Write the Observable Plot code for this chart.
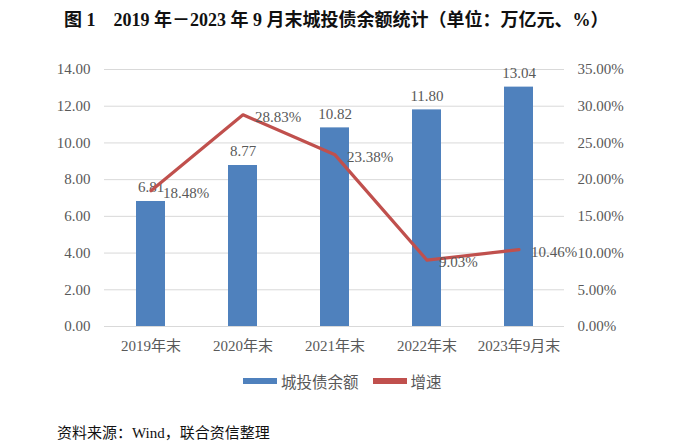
<!DOCTYPE html>
<html>
<head>
<meta charset="utf-8">
<script src="https://cdn.jsdelivr.net/npm/d3@7"></script>
<script src="https://cdn.jsdelivr.net/npm/@observablehq/plot@0.6"></script>
<style>
  body { margin: 0; background: #fff; width: 700px; height: 445px; position: relative; overflow: hidden; }
  .title { position: absolute; left: 64px; top: 5px; font-family: "Liberation Serif", "Noto Sans CJK SC", serif; font-weight: bold; font-size: 18px; color: #111; white-space: nowrap; }
  #chart { position: absolute; left: 0; top: 40px; }
  .legend { position: absolute; top: 370px; left: 243px; display: flex; align-items: center; font-family: "Noto Sans CJK SC", sans-serif; font-size: 15.5px; color: #595959; }
  .sw { display: inline-block; width: 34px; height: 6px; margin-right: 4px; }
  .caption { position: absolute; left: 57px; top: 421px; font-family: "Liberation Serif", "Noto Sans CJK SC", serif; font-size: 15px; color: #111; }
</style>
</head>
<body>
<div class="title">图 1&nbsp;&nbsp;&nbsp;&nbsp;2019 年－2023 年 9 月末城投债余额统计（单位：万亿元、%）</div>
<div id="chart"></div>
<div class="legend">
  <span class="sw" style="background:#4F81BD"></span><span>城投债余额</span>
  <span class="sw" style="background:#C0504D; margin-left:14px"></span><span>增速</span>
</div>
<div class="caption">资料来源：Wind，联合资信整理</div>
<script>
const categories = ["2019年末", "2020年末", "2021年末", "2022年末", "2023年9月末"];
const balance = [6.81, 8.77, 10.82, 11.80, 13.04];      // 万亿元
const growth = [18.48, 28.83, 23.38, 9.03, 10.46];       // %
const leftTicks = [0, 2, 4, 6, 8, 10, 12, 14];
const rightMax = 35; // right axis max (%)
const leftMax = 14;

const ratio = leftMax / rightMax;
const data = categories.map((c, i) => ({cat: c, bal: balance[i], g: growth[i]}));

const serif = "'Liberation Serif', 'Noto Sans CJK SC', serif";
const grey = "#595959";

const chart = Plot.plot({
  width: 700,
  height: 320,
  marginTop: 29,
  marginBottom: 34,
  marginLeft: 104,
  marginRight: 136,
  style: {fontFamily: serif, fontSize: "15px", color: grey, background: "transparent"},
  x: {domain: categories, paddingInner: 0.685, paddingOuter: 0.3425, label: null},
  y: {domain: [0, leftMax], label: null},
  marks: [
    Plot.gridY(leftTicks, {stroke: "#d9d9d9", strokeOpacity: 1, strokeWidth: 1}),
    Plot.axisY(leftTicks, {anchor: "left", tickSize: 0, tickPadding: 14, tickFormat: d => d.toFixed(2), label: null, fill: grey}),
    Plot.axisY(leftTicks, {anchor: "right", tickSize: 0, tickPadding: 13, tickFormat: d => (d / ratio).toFixed(2) + "%", label: null, fill: grey}),
    Plot.axisX({tickSize: 0, tickPadding: 14, label: null, fill: grey}),
    Plot.barY(data, {x: "cat", y: "bal", fill: "#4F81BD"}),
    Plot.text(data, {x: "cat", y: "bal", text: d => d.bal.toFixed(2), dy: -14, fill: grey, fontSize: 15}),
    Plot.line(data, {x: "cat", y: d => d.g * ratio, stroke: "#C0504D", strokeWidth: 3.2}),
    Plot.text(data, {x: "cat", y: d => d.g * ratio, text: d => d.g.toFixed(2) + "%", textAnchor: "start", dx: 12, dy: 2, fill: grey, fontSize: 15})
  ]
});
document.getElementById("chart").appendChild(chart);
</script>
</body>
</html>
